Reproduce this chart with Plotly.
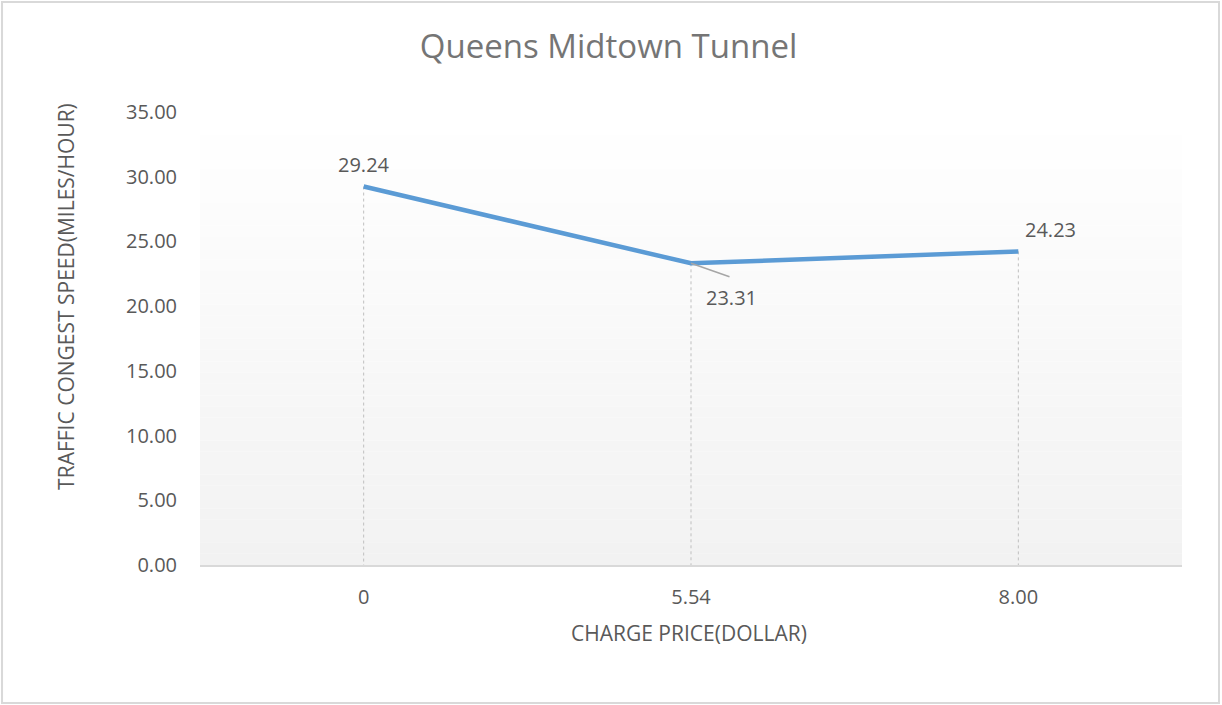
import plotly.graph_objects as go

# Chart data
price_labels = ["0", "5.54", "8.00"]
speeds = [29.24, 23.31, 24.23]
y_ticks = [0, 5, 10, 15, 20, 25, 30, 35]

TICK_COLOR = "#595959"
LINE_COLOR = "#5b9bd5"
FONT = "Open Sans"

fig = go.Figure()

# Vertical drop lines from each point to the axis
drop_x, drop_y = [], []
for cat, val in zip(price_labels, speeds):
    drop_x += [cat, cat, None]
    drop_y += [val, 0, None]
fig.add_trace(go.Scatter(
    x=drop_x, y=drop_y, mode="lines",
    line=dict(color="#bfbfbf", width=1, dash="dot"),
    hoverinfo="skip", showlegend=False,
))

# Main series
fig.add_trace(go.Scatter(
    x=price_labels, y=speeds, mode="lines",
    line=dict(color=LINE_COLOR, width=4.5),
    showlegend=False,
))

# Plot-area gradient (white at top to light grey at bottom)
shapes = []
n_bands = 40
for i in range(n_bands):
    t = i / (n_bands - 1)
    c = round(255 - t * (255 - 242))
    shapes.append(dict(
        type="rect", xref="x domain", yref="y domain",
        x0=0, x1=1, y0=1 - (i + 1) / n_bands, y1=1 - i / n_bands,
        fillcolor=f"rgb({c},{c},{c})", line=dict(width=0), layer="below",
    ))

# Outer chart border
shapes.append(dict(
    type="rect", xref="paper", yref="paper",
    x0=-0.2016, x1=1.0377, y0=-0.3046, y1=1.2428,
    line=dict(color="#d9d9d9", width=2), fillcolor="rgba(0,0,0,0)", layer="below",
))

# Data labels (category positions given by index on the category axis)
label_font = dict(family=FONT, size=20, color=TICK_COLOR)
label_offsets = [(0, 22), (40, -34), (32, 22)]
annotations = []
for idx, (val, (dx, dy)) in enumerate(zip(speeds, label_offsets)):
    annotations.append(dict(
        x=idx, y=val, xref="x", yref="y", text=f"{val:.2f}",
        showarrow=False, xshift=dx, yshift=dy, font=label_font,
        xanchor="center", yanchor="middle",
    ))
# Leader line for the middle label
annotations.append(dict(
    x=1, y=speeds[1], xref="x", yref="y", text=" ",
    showarrow=True, arrowhead=0, arrowwidth=1.5, arrowcolor="#a6a6a6",
    ax=40, ay=14, font=dict(size=1),
))

# Axis titles
annotations.append(dict(
    x=-0.1365, y=0.594, xref="paper", yref="paper",
    text="TRAFFIC CONGEST SPEED(MILES/HOUR)", textangle=-90, showarrow=False,
    xanchor="center", yanchor="middle",
    font=dict(family=FONT, size=21, color=TICK_COLOR),
))
annotations.append(dict(
    x=0.498, y=-0.150, xref="paper", yref="paper",
    text="CHARGE PRICE(DOLLAR)", showarrow=False,
    xanchor="center", yanchor="middle",
    font=dict(family=FONT, size=21, color=TICK_COLOR),
))

fig.update_layout(
    width=1222, height=705,
    margin=dict(l=200, r=40, t=112, b=140),
    paper_bgcolor="white", plot_bgcolor="white",
    title=dict(
        text="Queens Midtown Tunnel", x=0.498, y=1 - 46 / 705,
        xanchor="center", yanchor="middle",
        font=dict(family=FONT, size=33, color="#757575"),
    ),
    xaxis=dict(
        type="category", range=[-0.5, 2.5],
        showgrid=False, zeroline=False,
        showline=True, linecolor="#d9d9d9", linewidth=2,
        ticks="", ticklabelstandoff=13,
        tickfont=dict(family=FONT, size=20, color=TICK_COLOR),
    ),
    yaxis=dict(
        range=[0, 35], tickvals=y_ticks, tickformat=".2f",
        showgrid=False, zeroline=False, showline=False,
        ticks="", ticklabelstandoff=22,
        tickfont=dict(family=FONT, size=20, color=TICK_COLOR),
    ),
    shapes=shapes,
    annotations=annotations,
)

fig.write_html("out.html")
